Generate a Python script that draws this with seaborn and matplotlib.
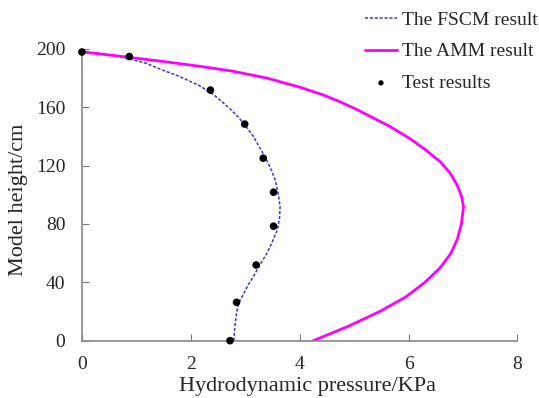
import numpy as np
import matplotlib
matplotlib.use('Agg')
import matplotlib.pyplot as plt
import pandas as pd
import seaborn as sns

# FSCM result (height in cm, pressure in KPa)
fscm_height = [0, 10, 19, 26, 30, 38, 44, 52, 60, 68, 76, 84, 92, 102, 110, 116, 125, 132, 140,
               146, 153, 159, 169, 175, 181, 186, 190, 193, 195.5, 197, 198]
fscm_press = [2.79, 2.81, 2.84, 2.88, 2.94, 3.05, 3.15, 3.27, 3.40, 3.50, 3.59, 3.63, 3.64, 3.60, 3.55,
              3.49, 3.38, 3.27, 3.15, 3.03, 2.88, 2.72, 2.41, 2.15, 1.80, 1.45, 1.19, 0.90, 0.58, 0.30, 0.0]

# AMM result
amm_height = [0, 10, 20, 30, 40, 50, 60, 70, 80, 91.7, 99.3, 106.8, 115.1, 122.7, 130.9, 138.4,
              146.8, 158.3, 163.8, 168.5, 173.7, 180.0, 184.7, 188.1, 191.7, 195.0, 198]
amm_press = [4.25, 4.90, 5.47, 5.95, 6.30, 6.58, 6.78, 6.90, 6.97, 7.01, 6.97, 6.89, 6.76, 6.58, 6.31,
             6.03, 5.66, 5.06, 4.74, 4.43, 4.01, 3.40, 2.78, 2.17, 1.43, 0.70, 0.0]

# Test results
test_height = [0, 26.3, 51.9, 78.5, 101.8, 125.1, 148.5, 171.8, 194.8, 197.9]
test_press = [2.72, 2.84, 3.20, 3.52, 3.52, 3.33, 2.99, 2.36, 0.87, 0.0]

sns.set_style('ticks')
plt.rcParams['font.family'] = ['Liberation Serif', 'DejaVu Serif']

fig = plt.figure(figsize=(5.39, 3.98), dpi=100)
ax = fig.add_axes([0.152, 0.144, 0.808, 0.733])

sns.lineplot(x=fscm_press, y=fscm_height, sort=False, estimator=None, ax=ax,
             color='#3a3acf', lw=1.1, linestyle=(0, (2, 1.2)), label='The FSCM result')
sns.lineplot(x=amm_press, y=amm_height, sort=False, estimator=None, ax=ax,
             color='#ff00ff', lw=2, label='The AMM result')
sns.scatterplot(x=test_press, y=test_height, ax=ax, color='black', s=30,
                edgecolor='none', label='Test results', zorder=5, clip_on=False)

ax.set_xlim(0, 8)
ax.set_ylim(0, 200)
ax.set_xticks([0, 2, 4, 6, 8])
ax.set_yticks([0, 40, 80, 120, 160, 200])
ax.tick_params(direction='in', length=5, color='#777777', labelsize=14)
ax.tick_params(axis='x', pad=11)
ax.tick_params(axis='y', pad=12)
for s in ['top', 'right']:
    ax.spines[s].set_visible(False)
for s in ['left', 'bottom']:
    ax.spines[s].set_color('#888888')
    ax.spines[s].set_linewidth(1.2)

ax.set_xlabel('Hydrodynamic pressure/KPa', fontsize=16)
ax.set_ylabel('Model height/cm', fontsize=16)
ax.xaxis.set_label_coords(0.519, -0.125)
ax.yaxis.set_label_coords(-0.124, 0.482)

ax.legend(loc='upper left', bbox_to_anchor=(0.677, 0.972), bbox_transform=fig.transFigure,
          frameon=False, fontsize=14, handlelength=1.65, handletextpad=0.25,
          labelspacing=0.72, borderaxespad=0, borderpad=0, markerscale=0.7)

fig.savefig('out.png', dpi=100)
